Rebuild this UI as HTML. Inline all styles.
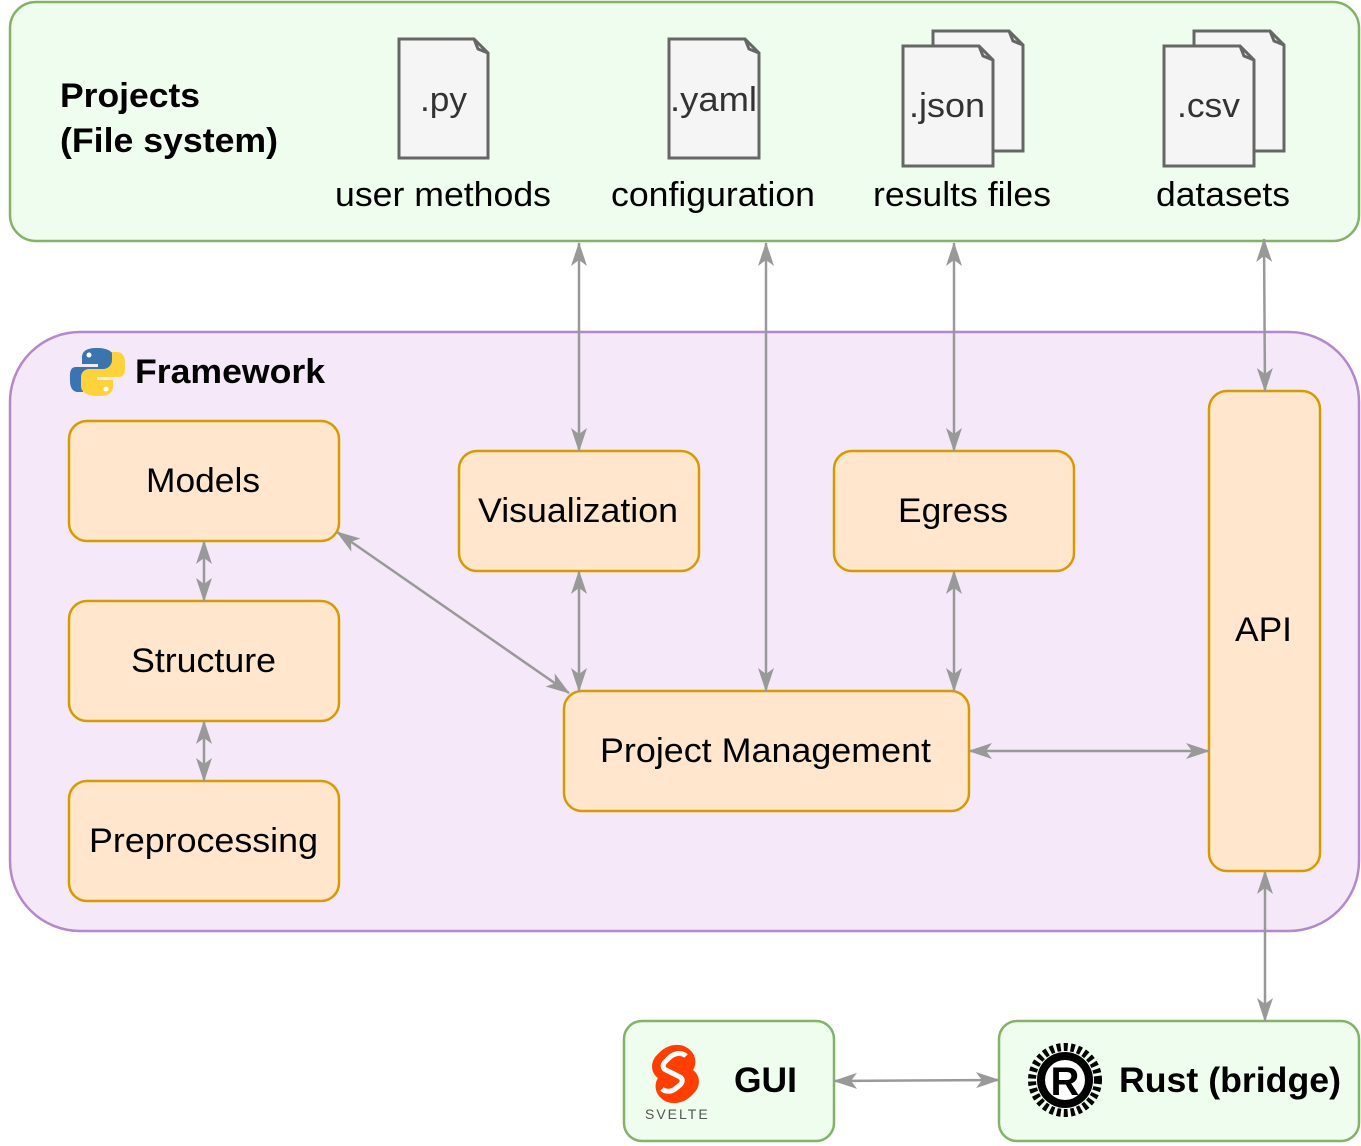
<!DOCTYPE html>
<html><head><meta charset="utf-8"><style>
html,body{margin:0;padding:0;background:#fff}
svg{display:block}
text{font-family:"Liberation Sans",Arial,sans-serif}
</style></head><body>
<svg width="1361" height="1146" viewBox="0 0 1361 1146" xmlns="http://www.w3.org/2000/svg">
<defs>
<marker id="a" viewBox="0 0 24 16" refX="23" refY="8" markerWidth="24" markerHeight="16" markerUnits="userSpaceOnUse" orient="auto-start-reverse">
<path d="M0,0 L24,8 L0,16 L6,8 z" fill="#999"/>
</marker>
</defs>
<rect x="10" y="2" width="1349" height="239" rx="26" fill="#effdee" stroke="#82b366" stroke-width="2.5"/>
<rect x="10" y="332" width="1349" height="599" rx="70" fill="#f5e8f9" stroke="#b587cc" stroke-width="2.5"/>
<g lengthAdjust="spacingAndGlyphs">
<text x="60" y="107" font-size="34" font-weight="bold" textLength="140" lengthAdjust="spacingAndGlyphs">Projects</text>
<text x="60" y="152" font-size="34" font-weight="bold" textLength="218" lengthAdjust="spacingAndGlyphs">(File system)</text>
</g>

<g stroke="#666" stroke-width="3" fill="#f5f5f5">
<path d="M399,39 H474 L488,53 V158 H399 Z"/><path d="M474,39 L478,49 L488,53" fill="none"/>
<path d="M669,39 H745 L759,53 V158 H669 Z"/><path d="M745,39 L749,49 L759,53" fill="none"/>
<path d="M933,31 H1009 L1023,45 V151 H933 Z"/><path d="M1009,31 L1013,41 L1023,45" fill="none"/>
<path d="M903,46 H979 L993,60 V166 H903 Z"/><path d="M979,46 L983,56 L993,60" fill="none"/>
<path d="M1194,31 H1270 L1284,45 V151 H1194 Z"/><path d="M1270,31 L1274,41 L1284,45" fill="none"/>
<path d="M1164,46 H1240 L1254,60 V166 H1164 Z"/><path d="M1240,46 L1244,56 L1254,60" fill="none"/>
</g>
<g font-size="34" fill="#333">
<text x="420" y="111" textLength="47" lengthAdjust="spacingAndGlyphs">.py</text>
<text x="670" y="111" textLength="87" lengthAdjust="spacingAndGlyphs">.yaml</text>
<text x="909" y="117" textLength="76" lengthAdjust="spacingAndGlyphs">.json</text>
<text x="1177" y="117" textLength="63" lengthAdjust="spacingAndGlyphs">.csv</text>
</g>
<g font-size="34" fill="#000">
<text x="335" y="206" textLength="216" lengthAdjust="spacingAndGlyphs">user methods</text>
<text x="611" y="206" textLength="204" lengthAdjust="spacingAndGlyphs">configuration</text>
<text x="873" y="206" textLength="178" lengthAdjust="spacingAndGlyphs">results files</text>
<text x="1156" y="206" textLength="134" lengthAdjust="spacingAndGlyphs">datasets</text>
</g>

<g>
<path d="M97,348 c-12,0 -15,4 -15,10 v6 h16 v3 h-22 c-7,0 -6,8 -6,14 c0,7 3,11 8,11 h5 v-8 c0,-5 4,-9 9,-9 h14 c4,0 8,-3 8,-8 v-9 c0,-6 -6,-10 -17,-10z" fill="#3a75b0"/>
<path d="M98,396 c12,0 15,-4 15,-10 v-6 h-16 v-3 h22 c7,0 6,-8 6,-14 c0,-7 -3,-11 -8,-11 h-5 v8 c0,5 -4,9 -9,9 h-14 c-4,0 -8,3 -8,8 v9 c0,6 6,10 17,10z" fill="#fdd23a"/>
<circle cx="89" cy="355" r="2.5" fill="#fff"/><circle cx="106" cy="389" r="2.5" fill="#fff"/>
</g>
<text x="135" y="383" font-size="34" font-weight="bold" textLength="190" lengthAdjust="spacingAndGlyphs">Framework</text>

<g fill="#ffe6cc" stroke="#d79b00" stroke-width="2.5">
<rect x="69" y="421" width="270" height="120" rx="18"/>
<rect x="69" y="601" width="270" height="120" rx="18"/>
<rect x="69" y="781" width="270" height="120" rx="18"/>
<rect x="459" y="451" width="240" height="120" rx="18"/>
<rect x="834" y="451" width="240" height="120" rx="18"/>
<rect x="564" y="691" width="405" height="120" rx="18"/>
<rect x="1209" y="391" width="111" height="480" rx="18"/>
</g>
<g font-size="34" fill="#000">
<text x="146" y="492" textLength="114" lengthAdjust="spacingAndGlyphs">Models</text>
<text x="131" y="672" textLength="145" lengthAdjust="spacingAndGlyphs">Structure</text>
<text x="89" y="852" textLength="229" lengthAdjust="spacingAndGlyphs">Preprocessing</text>
<text x="478" y="522" textLength="200" lengthAdjust="spacingAndGlyphs">Visualization</text>
<text x="898" y="522" textLength="110" lengthAdjust="spacingAndGlyphs">Egress</text>
<text x="600" y="762" textLength="331" lengthAdjust="spacingAndGlyphs">Project Management</text>
<text x="1235" y="641" textLength="57" lengthAdjust="spacingAndGlyphs">API</text>
</g>

<g fill="#effdee" stroke="#82b366" stroke-width="2.5">
<rect x="624" y="1021" width="210" height="120" rx="18"/>
<rect x="999" y="1021" width="360" height="120" rx="18"/>
</g>
<path d="M690,1050 c-8,-8 -22,-6 -30,2 l-4,4 c-6,7 -5,17 2,22 c-4,6 -3,15 3,20 c8,8 22,6 30,-2 l4,-4 c6,-7 5,-17 -2,-22 c4,-6 3,-15 -3,-20z" fill="#ff3e00"/>
<path d="M686,1056 c-4,-4 -11,-3 -16,1 l-5,5 c-3,3 -2,7 1,8 l14,7 c3,2 3,5 0,8 l-5,4 c-4,3 -10,3 -13,0" fill="none" stroke="#fff" stroke-width="5"/>
<text x="645" y="1119" font-size="14" fill="#555" letter-spacing="2">SVELTE</text>
<text x="734" y="1092" font-size="35" font-weight="bold" textLength="63" lengthAdjust="spacingAndGlyphs">GUI</text>
<circle cx="1065" cy="1080" r="33" fill="none" stroke="#000" stroke-width="8" stroke-dasharray="4 3"/>
<circle cx="1065" cy="1080" r="28" fill="#000"/>
<circle cx="1065" cy="1080" r="20" fill="#fff"/>
<text x="1065" y="1095" font-size="40" font-weight="bold" text-anchor="middle" font-family="Liberation Serif">R</text>
<text x="1119" y="1092" font-size="35" font-weight="bold" textLength="222" lengthAdjust="spacingAndGlyphs">Rust (bridge)</text>

<g stroke="#999" stroke-width="2.5" fill="none" marker-start="url(#a)" marker-end="url(#a)">
<line x1="579" y1="243" x2="579" y2="451"/>
<line x1="766" y1="243" x2="766" y2="691"/>
<line x1="954" y1="243" x2="954" y2="451"/>
<line x1="1264" y1="239" x2="1265" y2="391"/>
<line x1="204" y1="541" x2="204" y2="601"/>
<line x1="204" y1="721" x2="204" y2="781"/>
<line x1="337" y1="532" x2="569" y2="693"/>
<line x1="579" y1="571" x2="579" y2="691"/>
<line x1="954" y1="571" x2="954" y2="691"/>
<line x1="969" y1="751" x2="1209" y2="751"/>
<line x1="1265" y1="871" x2="1265" y2="1021"/>
<line x1="834" y1="1081" x2="999" y2="1080"/>
</g>
</svg>
</body></html>
